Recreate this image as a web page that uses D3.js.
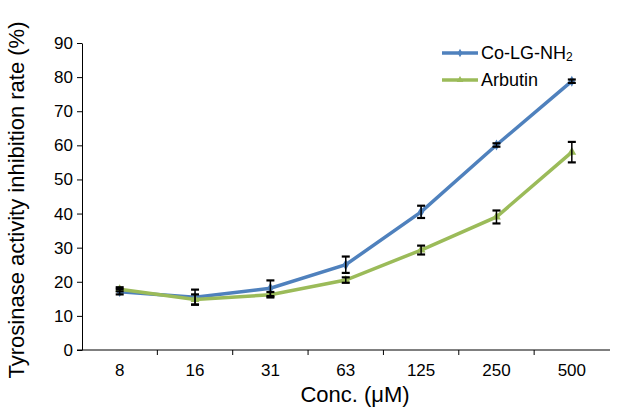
<!DOCTYPE html>
<html>
<head>
<meta charset="utf-8">
<script src="https://cdn.jsdelivr.net/npm/d3@7"></script>
<style>
  body { margin: 0; background: #fff; }
  svg { font-family: "Liberation Sans", Arial, sans-serif; }
</style>
</head>
<body>
<div id="grafico"></div>
<script>
// Dados
const concentracoes = ["8", "16", "31", "63", "125", "250", "500"];
const coLG = [17.1, 15.5, 18.1, 25.0, 40.5, 60.1, 78.8];
const coLGErro = [0.8, 2.2, 2.3, 2.4, 1.8, 0.5, 0.5];
const arbutin = [17.8, 14.8, 16.2, 20.5, 29.3, 39.0, 58.0];
const arbutinErro = [0.6, 1.5, 0.8, 0.8, 1.3, 1.9, 3.0];
const ticksY = [0, 10, 20, 30, 40, 50, 60, 70, 80, 90];

const cores = { co: '#4f81bd', arb: '#9bbb59' };

// Configurações do gráfico
let margin = { top: 43, right: 10, bottom: 58, left: 82 };
let width = 620 - margin.left - margin.right;
let height = 408 - margin.top - margin.bottom;

let svg = d3.select('#grafico').append('svg')
    .attr('width', 620)
    .attr('height', 408)
    .append('g')
    .attr('transform', `translate(${margin.left}, ${margin.top})`);

// Escalas
let x = d3.scaleBand().domain(concentracoes).range([0, width - 0.5]);
let y = d3.scaleLinear().domain([0, 90]).range([height, 0]);
let cx = d => x(d) + x.bandwidth() / 2;

// Eixo Y
let eixoY = svg.append('g')
    .call(d3.axisLeft(y).tickValues(ticksY).tickSize(5).tickSizeOuter(0));
eixoY.selectAll('text').attr('font-size', 17).attr('fill', '#000').attr('dx', -1);
eixoY.selectAll('line').attr('stroke', '#000');
eixoY.select('.domain').attr('stroke', '#000');

// Eixo X (marcas entre categorias)
let eixoX = svg.append('g').attr('transform', `translate(0, ${height})`);
eixoX.append('line').attr('x1', -5).attr('x2', width).attr('stroke', '#000');
eixoX.selectAll('.marca')
    .data(concentracoes.slice(1))
    .join('line')
    .attr('x1', d => x(d)).attr('x2', d => x(d))
    .attr('y1', 0).attr('y2', 5)
    .attr('stroke', '#000');
eixoX.selectAll('.rotulo')
    .data(concentracoes)
    .join('text')
    .attr('x', d => cx(d))
    .attr('y', 26)
    .attr('text-anchor', 'middle')
    .attr('font-size', 17)
    .text(d => d);

// Títulos dos eixos
svg.append('text')
    .attr('x', width / 2 + 9)
    .attr('y', height + 52)
    .attr('text-anchor', 'middle')
    .attr('font-size', 22)
    .text('Conc. (μM)');

svg.append('text')
    .attr('transform', 'rotate(-90)')
    .attr('x', -157)
    .attr('y', -58)
    .attr('text-anchor', 'middle')
    .attr('font-size', 22)
    .text('Tyrosinase activity inhibition rate (%)');

// Séries
const series = [
    { nome: 'co', valores: coLG, erros: coLGErro, cor: cores.co, simbolo: d3.symbolDiamond },
    { nome: 'arb', valores: arbutin, erros: arbutinErro, cor: cores.arb, simbolo: d3.symbolTriangle }
];

let line = d3.line()
    .x((d, i) => cx(concentracoes[i]))
    .y(d => y(d));

series.forEach(s => {
    svg.append('path')
        .datum(s.valores)
        .attr('d', line)
        .attr('fill', 'none')
        .attr('stroke', s.cor)
        .attr('stroke-width', 3.5);

    svg.append('g').selectAll('path')
        .data(s.valores)
        .join('path')
        .attr('d', d3.symbol().type(s.simbolo).size(34))
        .attr('transform', (d, i) => `translate(${cx(concentracoes[i])}, ${y(d)})`)
        .attr('fill', s.cor);
});

// Barras de erro
series.forEach(s => {
    let g = svg.append('g').attr('stroke', '#000').attr('stroke-width', 2.2);
    s.valores.forEach((v, i) => {
        let px = cx(concentracoes[i]);
        let y1 = y(v + s.erros[i]), y2 = y(v - s.erros[i]);
        g.append('line').attr('x1', px).attr('x2', px).attr('y1', y1).attr('y2', y2).attr('stroke-width', 1.5);
        g.append('line').attr('x1', px - 4).attr('x2', px + 4).attr('y1', y1).attr('y2', y1);
        g.append('line').attr('x1', px - 4).attr('x2', px + 4).attr('y1', y2).attr('y2', y2);
    });
});

// Legenda
let legenda = svg.append('g').attr('transform', `translate(${442 - margin.left}, ${53 - margin.top})`);
series.forEach((s, i) => {
    let ly = i * 27;
    legenda.append('line')
        .attr('x1', 0).attr('x2', 36).attr('y1', ly).attr('y2', ly)
        .attr('stroke', s.cor).attr('stroke-width', 3.5);
    legenda.append('path')
        .attr('d', d3.symbol().type(s.simbolo).size(20))
        .attr('transform', `translate(18, ${ly})`)
        .attr('fill', s.cor);
});
let t1 = legenda.append('text').attr('x', 39).attr('y', 6).attr('font-size', 18);
t1.append('tspan').text('Co-LG-NH');
t1.append('tspan').attr('font-size', 12).attr('dy', 2).text('2');
legenda.append('text').attr('x', 39).attr('y', 33).attr('font-size', 18).text('Arbutin');
</script>
</body>
</html>
